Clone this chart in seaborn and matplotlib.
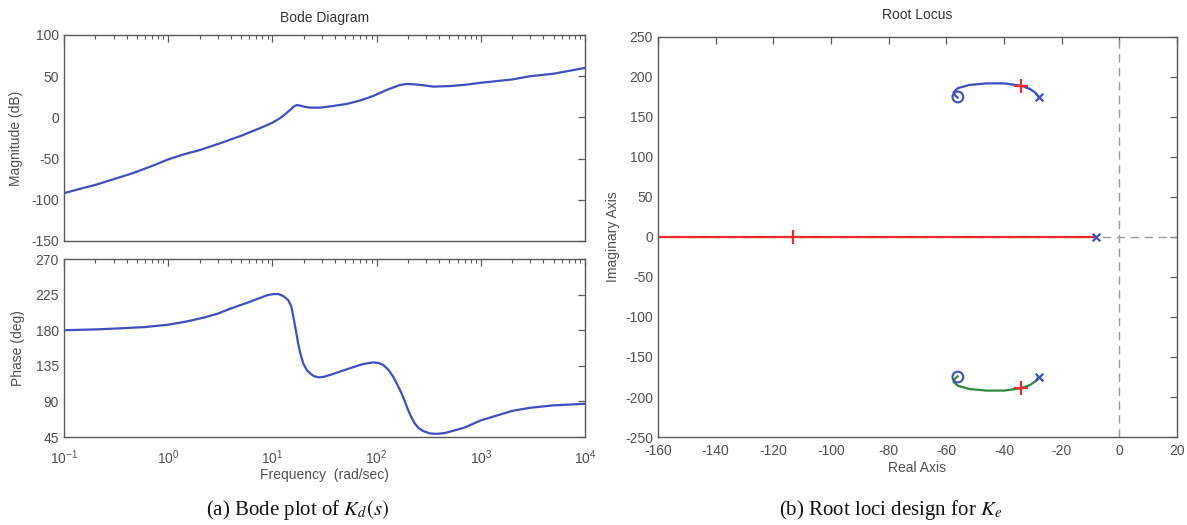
import numpy as np
import pandas as pd
import matplotlib
matplotlib.use("Agg")
import matplotlib.pyplot as plt
import seaborn as sns
from matplotlib.ticker import LogLocator, NullFormatter

# ---------------- data ----------------
mag_freq = [0.1, 0.15, 0.2, 0.3, 0.45, 0.7, 1.0, 1.4, 2.02, 3.14, 5.25, 8.2, 10, 11.8, 13.3,
            14.8, 16, 17.1, 18.5, 20.5, 22.9, 28.6, 38.4, 51.6, 69, 93, 125, 168, 194, 225,
            281, 350, 506, 700, 1000, 2000, 3000, 5000, 10000]
mag_db = [-92, -86, -82, -75, -68, -59, -51, -45, -39.6, -31.5, -21.4, -11.3, -6.5, -1.1, 4,
          9, 13, 15, 14.2, 12.8, 11.8, 11.8, 13.8, 16.3, 20.3, 26, 33.3, 39.3, 40.5, 40.2,
          39, 37.3, 38, 39.5, 42, 46, 50, 53, 60]

ph_freq = [0.1, 0.2, 0.3, 0.6, 1.0, 1.5, 2.2, 3.0, 3.9, 5.0, 6.1, 7.5, 8.8, 10, 11.4, 12.8,
           14.2, 15.2, 15.9, 16.8, 17.7, 18.7, 19.8, 21.3, 23, 25, 27.6, 31, 35.7, 43, 51.6,
           62, 74.5, 93, 105, 116, 130, 144.5, 160, 174, 188, 201, 216, 233, 255, 281, 325,
           380, 450, 550, 700, 1000, 1500, 2000, 3000, 5000, 10000]
ph_deg = [180, 181, 182, 184, 187, 191, 196, 201, 207, 212, 216, 220.5, 224, 225.5, 225.8, 223,
          218, 210, 197, 180, 163, 149, 138, 130, 125.5, 122, 120.4, 121, 123.4, 127, 130.5,
          134, 137.3, 139.4, 138.5, 136, 130, 121.2, 110, 100, 89, 79, 70, 62, 56, 52.5, 49.5,
          49, 50, 53, 57, 66, 73, 78, 82, 85, 87]

arc_re = [-56, -57, -57.5, -56, -52, -46, -40, -34, -31, -29, -28]
arc_im = [174, 177, 181, 186, 190, 192, 192, 189, 185, 180, 175]

real_branch_re = [-160, -8]
real_branch_im = [0, 0]

zeros_re = [-56, -56]
zeros_im = [175, -175]
poles_re = [-28, -28, -8]
poles_im = [175, -175, 0]
gain_re = [-34, -34]
gain_im = [189, -189]
gain_real_re = [-113]
gain_real_im = [0]

mag_ticks = [-150, -100, -50, 0, 50, 100]
ph_ticks = [45, 90, 135, 180, 225, 270]
re_ticks = list(range(-160, 21, 20))
im_ticks = list(range(-250, 251, 50))

# ---------------- style ----------------
sns.set_theme(style="white")
plt.rcParams['font.family'] = ['Liberation Sans', 'DejaVu Sans']
plt.rcParams['mathtext.fontset'] = 'stix'
plt.rcParams['axes.unicode_minus'] = False

BLUE = '#3d4fc2'
RED = '#f02a2a'
GREEN = '#2f8a3c'
FRAME = '#5a5a5a'
TXT = '#505050'

fig = plt.figure(figsize=(11.87, 5.25), dpi=100)
ax1 = fig.add_axes([0.0539, 0.541, 0.4389, 0.3924])
ax2 = fig.add_axes([0.0539, 0.1676, 0.4389, 0.339])
ax3 = fig.add_axes([0.5543, 0.1676, 0.4373, 0.762])


def style(ax):
    for s in ax.spines.values():
        s.set_color(FRAME)
        s.set_linewidth(1.0)
    ax.tick_params(which='both', direction='in', top=True, right=True, color=FRAME,
                   labelcolor=TXT, labelsize=10)
    ax.tick_params(which='major', length=5, width=0.9)
    ax.tick_params(which='minor', length=3, width=0.8)


mag_df = pd.DataFrame({'w': mag_freq, 'db': mag_db})
ph_df = pd.DataFrame({'w': ph_freq, 'deg': ph_deg})

sns.lineplot(data=mag_df, x='w', y='db', ax=ax1, color=BLUE, lw=1.6, estimator=None, sort=False,
             solid_joinstyle='round')
sns.lineplot(data=ph_df, x='w', y='deg', ax=ax2, color=BLUE, lw=1.6, estimator=None, sort=False,
             solid_joinstyle='round')

for ax in (ax1, ax2):
    ax.set_xscale('log')
    ax.set_xlim(0.1, 1e4)
    ax.xaxis.set_major_locator(LogLocator(base=10, numticks=10))
    ax.xaxis.set_minor_locator(LogLocator(base=10, subs=np.arange(2, 10), numticks=20))
    ax.xaxis.set_minor_formatter(NullFormatter())
    style(ax)

ax1.set_ylim(-150, 100)
ax1.set_yticks(mag_ticks)
ax1.set_xticklabels([])
ax1.set_xlabel('')
ax1.set_ylabel('Magnitude (dB)', fontsize=10, color=TXT, labelpad=6)

ax2.set_ylim(45, 270)
ax2.set_yticks(ph_ticks)
ax2.tick_params(axis='x', which='major', pad=8)
ax2.set_xlabel('Frequency  (rad/sec)', fontsize=10, color=TXT, labelpad=1)
ax2.set_ylabel('Phase (deg)', fontsize=10, color=TXT, labelpad=8)

# ---------------- root locus ----------------
ax3.axvline(0, color='#9a9a9a', ls=(0, (6, 4)), lw=1.0, zorder=1)
ax3.axhline(0, color='#9a9a9a', ls=(0, (6, 4)), lw=1.0, zorder=1)

upper = pd.DataFrame({'re': arc_re, 'im': arc_im})
lower = pd.DataFrame({'re': arc_re, 'im': [-v for v in arc_im]})
real_b = pd.DataFrame({'re': real_branch_re, 'im': real_branch_im})

sns.lineplot(data=real_b, x='re', y='im', ax=ax3, color=RED, lw=1.6, estimator=None, sort=False)
sns.lineplot(data=upper, x='re', y='im', ax=ax3, color=BLUE, lw=1.6, estimator=None, sort=False,
             solid_joinstyle='round')
sns.lineplot(data=lower, x='re', y='im', ax=ax3, color=GREEN, lw=1.6, estimator=None, sort=False,
             solid_joinstyle='round')

sns.scatterplot(x=zeros_re, y=zeros_im, ax=ax3, marker='o', s=60, facecolor='none',
                edgecolor=BLUE, linewidth=1.5, zorder=5)
sns.scatterplot(x=poles_re, y=poles_im, ax=ax3, marker='x', s=30, color=BLUE,
                linewidth=1.6, zorder=5)
sns.scatterplot(x=gain_re, y=gain_im, ax=ax3, marker='+', s=110, color=RED,
                linewidth=1.6, zorder=6)
sns.scatterplot(x=gain_real_re, y=gain_real_im, ax=ax3, marker='|', s=110, color=RED,
                linewidth=1.6, zorder=6)

ax3.set_xlim(-160, 20)
ax3.set_ylim(-250, 250)
ax3.set_xticks(re_ticks)
ax3.set_yticks(im_ticks)
style(ax3)
ax3.tick_params(axis='x', which='major', pad=5)
ax3.set_xlabel('Real Axis', fontsize=10, color=TXT, labelpad=2)
ax3.set_ylabel('Imaginary Axis', fontsize=10, color=TXT, labelpad=4)

# ---------------- titles & captions ----------------
fig.text(0.2733, 0.9657, 'Bode Diagram', ha='center', va='center', fontsize=10, color='#333333')
fig.text(0.7725, 0.9714, 'Root Locus', ha='center', va='center', fontsize=10, color='#333333')
fig.text(0.251, 0.028, r'(a) Bode plot of $K_d(s)$', ha='center', va='center',
         family='Liberation Serif', fontsize=15, color='#111111')
fig.text(0.750, 0.028, r'(b) Root loci design for $K_e$', ha='center', va='center',
         family='Liberation Serif', fontsize=15, color='#111111')

fig.savefig('out.png', dpi=100)
